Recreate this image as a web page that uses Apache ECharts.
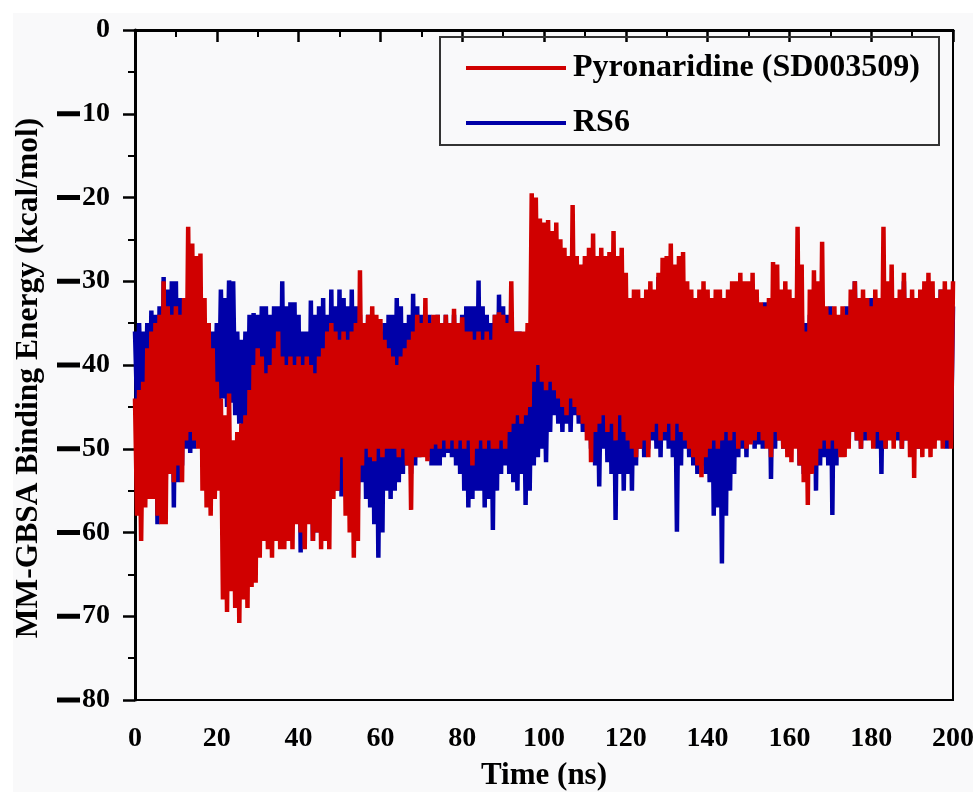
<!DOCTYPE html>
<html>
<head>
<meta charset="utf-8">
<title>MM-GBSA Binding Energy</title>
<script src="https://cdn.jsdelivr.net/npm/echarts@6/dist/echarts.min.js"></script>
<style>
  html, body { margin: 0; padding: 0; background: #fff; }
  #chart { width: 973px; height: 792px; }
</style>
</head>
<body>
<div id="chart"></div>
<script>
const redName = 'Pyronaridine (SD003509)'
const blueName = 'RS6'

// x ticks (ns) and y ticks (kcal/mol)
const timeTicks = [0, 20, 40, 60, 80, 100, 120, 140, 160, 180, 200]
const energyTicks = [-80, -70, -60, -50, -40, -30, -20, -10, 0]

// red: upper swings at each whole ns, lower swings half way between
const redTop = [
  -44, -43, -42, -38, -36, -35, -34, -30, -33, -34,
  -33, -34, -32, -23.5, -25.5, -27, -26.7, -32, -35, -38,
  -42, -44, -46, -43.4, -49, -48, -47, -46, -43, -40,
  -38, -39, -41, -40, -38, -36, -39, -40, -39, -40,
  -39, -40, -39, -40, -41, -39, -38, -36, -35, -36,
  -37, -36, -37, -36, -35, -28.7, -35, -34, -33, -34,
  -34.5, -37, -38, -39, -40, -39, -38, -37, -36, -34,
  -35, -32, -35, -34, -34, -35, -34, -35, -33.3, -35,
  -34.3, -36, -36, -37, -36, -37, -36, -37, -34, -33.7,
  -34, -35, -30, -36, -36, -36, -35, -19.5, -20, -22.5,
  -23, -22.7, -24, -23, -25, -26, -27, -20.9, -27, -28,
  -27, -26, -24.3, -27, -26, -27, -26.5, -24, -27, -26,
  -29, -32, -31, -31, -32, -31, -30, -31, -29, -27.2,
  -27, -25.5, -28, -27, -26.5, -30, -31, -32, -31, -30,
  -31, -32, -31, -31, -32, -31, -30, -30, -29, -30,
  -30, -29, -31, -32.5, -33, -32, -27.7, -28, -31, -30,
  -31, -32, -23.5, -28, -36, -31, -28.7, -30, -25.3, -33,
  -34, -33, -34, -33, -34, -31, -30, -32, -31, -32,
  -33, -31, -32, -23.5, -30, -28, -32, -31, -29, -32,
  -31, -32, -31, -30, -29, -30, -32, -31, -30, -31,
  -30
]
const redLow = [
  -58, -61, -57, -56, -56, -58, -59, -59, -53, -54,
  -52, -54, -49, -48, -49, -50, -55, -57, -58, -56,
  -55, -68, -69.5, -67, -69, -70.8, -68, -69, -66.5, -66,
  -63, -61, -62, -63, -61, -62, -62, -61, -62, -59,
  -60, -62, -59, -61, -60, -62, -61, -62, -56, -55,
  -51, -58, -60, -63, -61, -52, -50, -51, -51.5, -50,
  -51, -50, -50, -50, -51, -50, -52, -57.3, -51, -51,
  -51, -51.5, -50, -49.5, -50, -49, -50, -49, -50, -49,
  -50, -49, -52, -50, -49, -50, -49, -50, -50, -49,
  -50, -48, -47, -46, -47, -46, -45, -42, -40, -42,
  -43, -42, -43, -44, -45, -46, -44, -45, -46, -47,
  -49, -51.6, -48, -47, -46, -48, -47, -49, -46, -48,
  -49, -50, -51, -50, -49, -51, -48, -47, -49, -48,
  -47, -49, -47, -48, -49, -50, -51, -52, -53.4, -51,
  -50, -49, -50, -49, -48, -49, -48, -50, -49, -50,
  -49.5, -49, -48, -49, -50, -51, -48, -49, -50, -51,
  -51.6, -50, -52, -54, -56.7, -53, -52, -50, -49, -50,
  -49, -50, -51, -51, -50, -48, -49, -50, -48, -49,
  -50, -48, -49, -50, -49, -50, -48, -50, -49, -51,
  -53.5, -50, -51, -50, -51, -50, -49, -50, -49, -50
]

// blue: same layout
const blueTop = [
  -36, -35, -36, -35, -33.5, -34, -33, -29.5, -31, -30,
  -30, -32, -32.5, -34, -35, -35, -36, -35, -35, -36,
  -35, -31, -32, -29.9, -30, -36, -37, -36, -34, -33.8,
  -34, -33, -33, -34, -33, -33, -30, -33, -32.5, -32.5,
  -34, -36, -36, -32.3, -34, -33, -32, -34, -31, -33,
  -31, -32, -33, -31, -33, -34, -35, -34, -34, -35,
  -36, -35, -34, -34, -32, -33, -35, -34, -31.5, -33,
  -34, -35, -34, -35, -34, -35, -34, -35, -34, -35,
  -34, -33, -33, -33, -29.9, -33, -34, -35, -34, -31.6,
  -33, -34, -35, -36, -36, -37, -38, -38, -37, -39,
  -38, -37, -36, -38, -37, -35, -36, -38, -37, -36,
  -28, -35, -37, -36, -38, -36, -37, -35, -36, -37,
  -36, -35, -37, -36, -32.5, -36, -35, -37, -29.5, -36,
  -35, -36, -37, -36, -35, -37, -36, -35, -36, -37,
  -36, -35, -37, -36, -35, -34, -36, -35, -34, -35,
  -34, -35, -34, -35, -32.5, -34, -35, -34, -35, -33,
  -34, -35, -34, -33, -35, -34, -33, -34, -35, -34,
  -33, -34, -35, -34, -33, -34, -30, -34, -33, -34,
  -32, -34, -33, -34, -35, -34, -33, -34, -30, -34,
  -33, -34, -35, -33, -34, -33, -34, -31, -33, -34,
  -33
]
const blueLow = [
  -45, -44, -47, -50, -52, -59, -58, -55, -52, -57,
  -54, -52, -50, -50.5, -50, -48, -47, -50, -49, -47,
  -46, -44, -45, -44.5, -46, -47, -48, -51, -48, -50,
  -52, -53, -52, -54, -53, -55, -54, -56, -55, -57,
  -62.4, -58, -57, -61, -60, -58, -56, -55, -55, -55,
  -55.7, -54, -53, -55, -56, -54, -56, -57, -59, -63,
  -60, -55, -56, -55, -54, -53, -52, -53, -52, -51,
  -50, -51, -52, -52, -52, -51, -50.5, -51, -52, -53,
  -55, -57, -56, -55, -55, -57, -56, -59.7, -55, -53,
  -52, -53, -54, -55, -53, -56.7, -55, -52, -51, -50,
  -51.6, -48, -46, -47, -48, -47, -48, -46, -47, -48,
  -47, -50, -52, -54.5, -50, -51.6, -53, -58.5, -53, -55,
  -53, -55, -52, -50, -51, -50, -49, -50, -51, -49,
  -50, -51, -59.9, -52, -50, -51, -52, -53, -52, -53,
  -54, -58, -57, -63.7, -58, -55, -53, -51, -50, -51,
  -49, -50, -49.5, -50, -49, -53.6, -50, -49, -50, -50,
  -49, -48, -52, -53, -52, -51, -55, -52, -51, -52,
  -57.9, -52, -50, -49, -49.5, -48, -49, -50, -49, -48,
  -49, -50, -53, -50, -48, -48, -49, -50, -49, -48,
  -49, -50, -49, -48, -49.5, -49, -48, -49, -50, -49
]

// interleave the upper and lower swings into [t, value] pairs
const toPoints = (tops, lows) => {
  const pts = []
  tops.forEach((v, i) => {
    pts.push([i, v])
    if (i < lows.length) pts.push([i + 0.5, lows[i]])
  })
  return pts
}

const font = 'Liberation Serif'
const boldText = { fontFamily: font, fontWeight: 'bold', color: '#000' }

const chart = echarts.init(document.getElementById('chart'))

const option = {
  backgroundColor: '#f9f9fa',
  animation: false,
  grid: {
    left: 135, right: 20, top: 30, bottom: 92,
    outerBoundsMode: 'none',
    show: true, borderColor: '#000', borderWidth: 2, backgroundColor: 'transparent'
  },
  graphic: [
    // white page margin round the scanned figure
    { type: 'rect', left: 0, top: 0, shape: { width: 973, height: 13 }, style: { fill: '#fff' }, silent: true },
    { type: 'rect', left: 0, top: 0, shape: { width: 13, height: 792 }, style: { fill: '#fff' }, silent: true },
    // legend frame
    { type: 'rect', shape: { x: 440, y: 37, width: 499, height: 108 }, style: { fill: 'transparent', stroke: '#333', lineWidth: 2 }, z: 10, silent: true },
    // y axis title
    {
      type: 'text', x: 29, y: 378, rotation: Math.PI / 2, silent: true,
      style: {
        text: 'MM-GBSA Binding Energy (kcal/mol)',
        fontFamily: font, fontWeight: 'bold', fontSize: 31.5, fill: '#000',
        align: 'center', verticalAlign: 'middle'
      }
    }
  ],
  legend: {
    data: [redName, blueName],
    orient: 'vertical',
    left: 466, top: 52,
    padding: 0,
    itemWidth: 100, itemHeight: 4, itemGap: 23,
    icon: 'rect',
    textStyle: { ...boldText, fontSize: 32, padding: [0, 0, 0, 2] }
  },
  xAxis: {
    type: 'value', min: 0, max: 200, interval: timeTicks[1] - timeTicks[0],
    name: 'Time (ns)', nameLocation: 'middle', nameGap: 60,
    nameTextStyle: { ...boldText, fontSize: 31 },
    axisLine: { lineStyle: { color: '#000', width: 3 } },
    axisTick: { length: 12, lineStyle: { color: '#000', width: 2.5 } },
    minorTick: { show: true, splitNumber: 2, length: 7, lineStyle: { color: '#000', width: 2 } },
    axisLabel: { ...boldText, fontSize: 28, margin: 25 },
    splitLine: { show: false }
  },
  yAxis: {
    type: 'value', min: energyTicks[0], max: energyTicks[energyTicks.length - 1],
    interval: energyTicks[1] - energyTicks[0],
    axisLine: { lineStyle: { color: '#000', width: 3 } },
    axisTick: { length: 12, lineStyle: { color: '#000', width: 2.5 } },
    minorTick: { show: true, splitNumber: 2, length: 7, lineStyle: { color: '#000', width: 2 } },
    axisLabel: {
      ...boldText, fontSize: 28, margin: 25,
      // thick dash drawn as a small black block, as in the figure
      formatter: v => v < 0 ? '{d|}{n|' + Math.abs(v) + '}' : String(v),
      rich: {
        d: { width: 23, height: 5, backgroundColor: '#000' },
        n: { ...boldText, fontSize: 28, padding: [0, 0, 0, 2] }
      }
    },
    splitLine: { show: false }
  },
  series: [
    {
      name: blueName, type: 'line', data: toPoints(blueTop, blueLow),
      showSymbol: false, sampling: null, silent: true,
      color: '#0000a8', lineStyle: { width: 4.5, color: '#0000a8' }
    },
    {
      name: redName, type: 'line', data: toPoints(redTop, redLow),
      showSymbol: false, sampling: null, silent: true,
      color: '#d00000', lineStyle: { width: 4.5, color: '#d00000' }
    }
  ]
}

chart.setOption(option)
</script>
</body>
</html>
